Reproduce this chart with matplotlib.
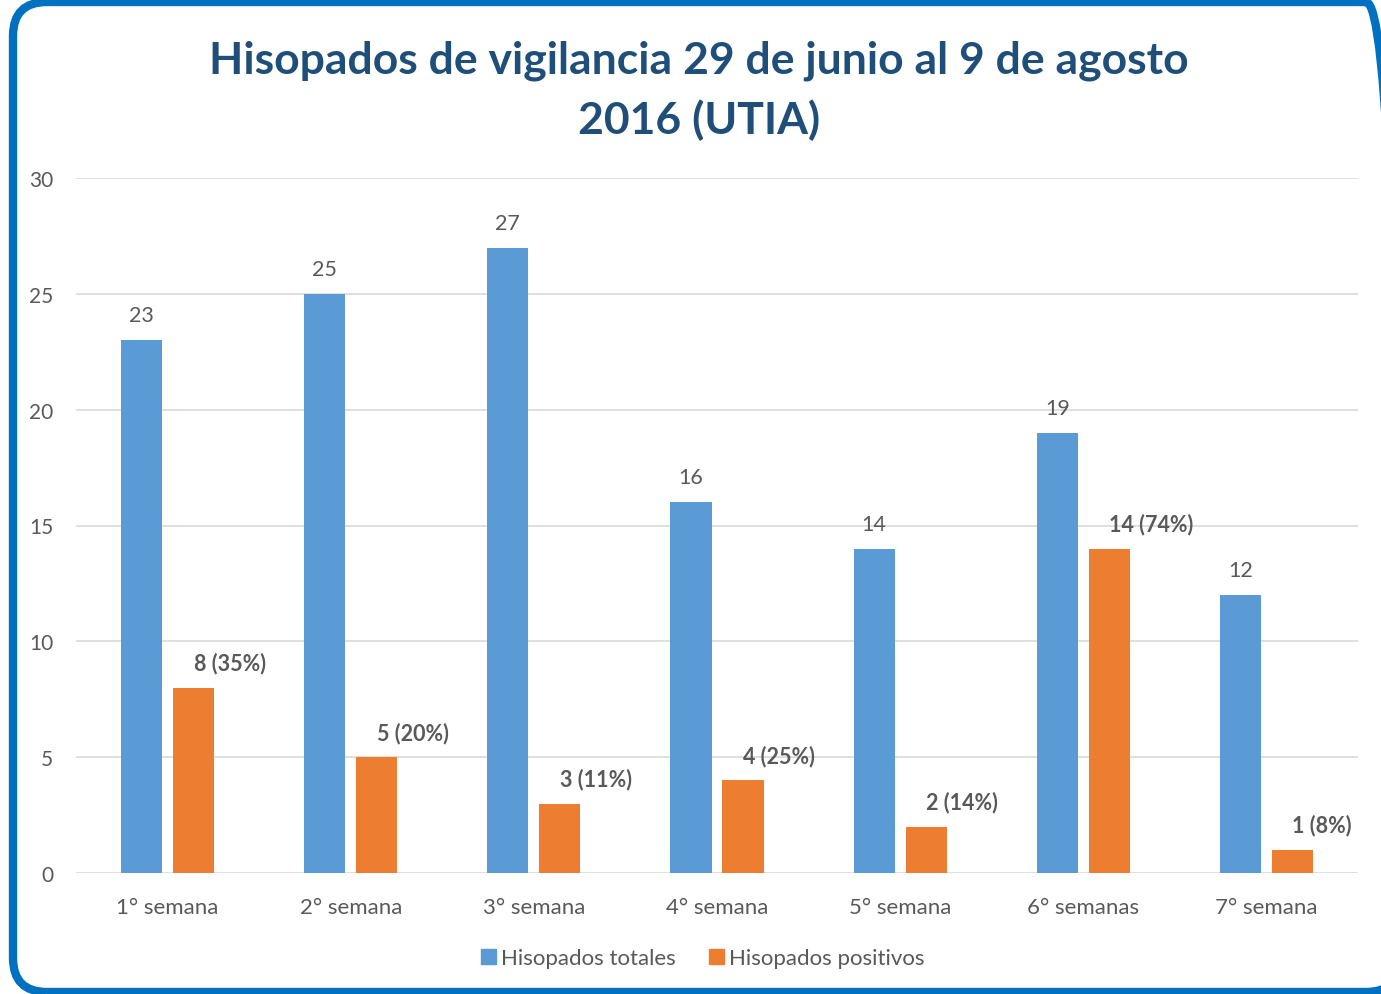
import matplotlib
matplotlib.use("Agg")
import matplotlib.pyplot as plt
from matplotlib.patches import FancyBboxPatch, Patch
from matplotlib.transforms import IdentityTransform
import numpy as np

categories = ["1° semana", "2° semana", "3° semana", "4° semana", "5° semana", "6° semanas", "7° semana"]
totales = [23, 25, 27, 16, 14, 19, 12]
positivos = [8, 5, 3, 4, 2, 14, 1]
positivos_labels = ["8 (35%)", "5 (20%)", "3 (11%)", "4 (25%)", "2 (14%)", "14 (74%)", "1 (8%)"]
yticks = [0, 5, 10, 15, 20, 25, 30]
title = "Hisopados de vigilancia 29 de junio al 9 de agosto\n2016 (UTIA)"

BLUE = "#5B9BD5"
ORANGE = "#ED7D31"
TEXT = "#595959"
TITLE_C = "#1F4E79"
GRID = "#D9D9D9"
FONT = ["Lato", "DejaVu Sans"]
plt.rcParams["font.family"] = FONT

W, H = 1381, 995
fig = plt.figure(figsize=(W / 100, H / 100), dpi=100)

ax = fig.add_axes([76 / W, 1 - 874 / H, (1358 - 76) / W, (874 - 179) / H])
x = np.arange(len(categories))
bw = 0.224
off = 0.142
ax.bar(x - off, totales, bw, color=BLUE, label="Hisopados totales", zorder=3)
ax.bar(x + off, positivos, bw, color=ORANGE, label="Hisopados positivos", zorder=3)

ax.set_xlim(-0.5, len(categories) - 0.5)
ax.set_ylim(0, 30)
ax.set_yticks(yticks)
ax.set_yticklabels([str(v) for v in yticks])
ax.set_xticks(x)
ax.set_xticklabels(categories)
ax.tick_params(axis="both", length=0, labelcolor=TEXT)
ax.tick_params(axis="y", pad=16.5, labelsize=15)
ax.tick_params(axis="x", pad=17, labelsize=16)
ax.grid(axis="y", color=GRID, linewidth=1.2, zorder=0)
for s in ax.spines.values():
    s.set_visible(False)

for xi, v in zip(x, totales):
    ax.annotate(str(v), (xi - off, v), xytext=(0, 18), textcoords="offset points",
                ha="center", va="center", fontsize=15.5, color=TEXT)
for xi, v, lab in zip(x, positivos, positivos_labels):
    ax.annotate(lab, (xi + off, v), xytext=(0, 18), textcoords="offset points",
                ha="left", va="center", fontsize=15.5, color=TEXT, fontweight="bold")

fig.text(699 / W, 1 - 91 / H, title, ha="center", va="center", multialignment="center",
         fontsize=32, fontweight="bold", color=TITLE_C, linespacing=1.52)

handles = [Patch(color=BLUE, label="Hisopados totales"), Patch(color=ORANGE, label="Hisopados positivos")]
fig.legend(handles=handles, loc="center", bbox_to_anchor=(703 / W, 1 - 959 / H), ncol=2,
           frameon=False, fontsize=16, labelcolor=TEXT, handlelength=0.65, handleheight=0.65,
           handletextpad=0.25, columnspacing=1.5)

# rounded frame drawn in pixel units; right and bottom edges run just past the canvas
x0, y0 = 13, 2
bx = FancyBboxPatch((x0, y0), 1400 - x0, 992 - y0,
                    boxstyle="round,pad=0,rounding_size=34",
                    fill=False, edgecolor="#0070C0", linewidth=6, zorder=10)
fig.add_artist(bx)
bx.set_transform(IdentityTransform())

fig.savefig("out.png", dpi=100)
